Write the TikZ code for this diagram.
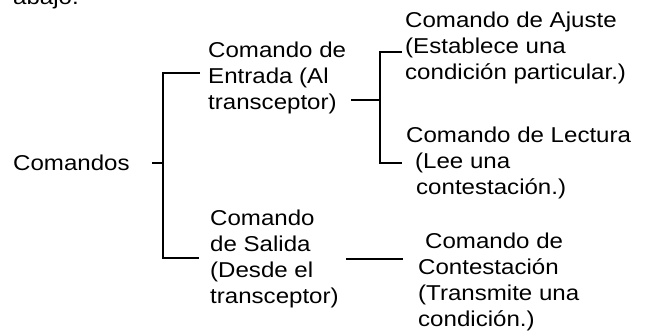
\documentclass[tikz,border=0pt]{standalone}
\usepackage{fontspec}
\setmainfont{Liberation Sans}[FakeStretch=1.12]
\usepackage{tikz}
\usetikzlibrary{positioning,calc}

\begin{document}
\begin{tikzpicture}[x=1pt, y=-1pt,
    txt/.style={inner sep=0pt, anchor=west, align=left, font=\fontsize{21.5}{26}\selectfont},
    brk/.style={line width=1.9pt}]
    \useasboundingbox (0,0) rectangle (654,334);
    % texts
    \node[txt, anchor=base west] (abajo) at (13,5) {abajo.};
    \node[txt] (com) at (13,163) {Comandos};
    \node[txt] (ent) at (208,78) {Comando de\\Entrada (Al\\transceptor)};
    \node[txt] (sal) at (210,259) {Comando\\de Salida\\(Desde el\\transceptor)};
    \node[txt] (aju) at (405,48) {Comando de Ajuste\\(Establece una\\condición particular.)};
    \node[txt] (lec) at (406,163) {Comando de Lectura\\\hspace*{9pt}(Lee una\\\hspace*{10pt}contestación.)};
    \node[txt] (con) at (418,282) {\hspace*{7pt}Comando de\\Contestación\\(Transmite una\\condición.)};
    % first bracket
    \coordinate (tl) at (163,73);
    \coordinate (bl) at (163,258);
    \draw[brk, shorten <=22pt] (com.east) -- (tl |- com.east);
    \draw[brk, line join=miter] ([xshift=-8pt]ent.west |- tl) -- (tl) -- (bl) -- ([xshift=-11pt]sal.west |- bl);
    % second bracket
    \coordinate (tr) at (380,52);
    \coordinate (br) at (380,163);
    \coordinate (jm) at (380,100);
    \draw[brk, shorten <=5pt] (ent.east |- jm) -- (jm);
    \draw[brk, line join=miter] ([xshift=-3pt]aju.west |- tr) -- (tr) -- (br) -- ([xshift=-4pt]lec.west |- br);
    % last connector
    \draw[brk, shorten <=7pt, shorten >=15pt] (sal.east) -- (sal.east -| con.west);
\end{tikzpicture}
\end{document}
